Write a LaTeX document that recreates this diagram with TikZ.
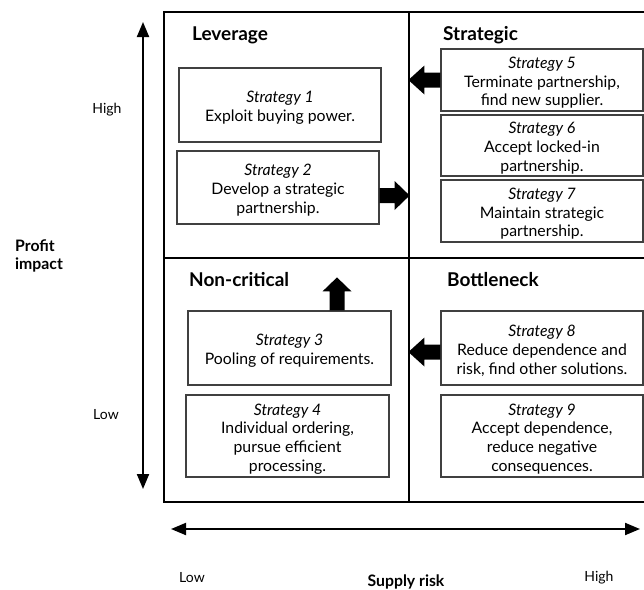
\documentclass[tikz,border=0pt]{standalone}
\usepackage{fontspec}
\setmainfont{Lato}
\usetikzlibrary{arrows.meta,calc}

% italic heading line of a strategy box, with a strut that lowers the block a little
\newcommand{\stratname}[1]{\rule{0pt}{17pt}\textit{Strategy #1}}

\tikzset{
  stratbox/.style={draw=black!75, line width=1.2pt, minimum width=#1, align=center,
    inner sep=0pt, font=\fontsize{15.8}{18.7}\selectfont},
  quadtitle/.style={anchor=base west, inner sep=0pt, font=\fontsize{19}{23}\selectfont\bfseries},
  axislabel/.style={inner sep=0pt, font=\fontsize{14}{17}\selectfont},
  axisname/.style={inner sep=0pt, font=\fontsize{15.8}{18.5}\selectfont\bfseries},
  frame/.style={line width=2pt, black},
  axis/.style={line width=2pt, {Triangle[length=15pt,width=12pt]}-{Triangle[length=15pt,width=12pt]}},
  blockarrow/.style={fill=black, draw=none}
}

\begin{document}
\begin{tikzpicture}[x=1pt, y=-1pt]
\clip (0,0) rectangle (644,589);

% quadrant frame
\coordinate (tl) at (164,12);
\coordinate (br) at (654,502);
\coordinate (midtop) at (409,12);
\coordinate (midbot) at (409,502);
\coordinate (midleft) at (164,257.5);
\coordinate (midright) at (654,257.5);
\draw[frame] (tl) rectangle (br);
\draw[frame] (midtop) -- (midbot);
\draw[frame] (midleft) -- (midright);

% quadrant titles
\node[quadtitle] (tlev) at (192,40.7) {Leverage};
\node[quadtitle] (tstr) at (443,40.7) {Strategic};
\node[quadtitle] (tnon) at (189,286.7) {Non-critical};
\node[quadtitle] (tbot) at (447,286.7) {Bottleneck};

% strategy boxes
\node[stratbox=202pt, minimum height=74pt] (s1) at (280,105)
  {\stratname{1}\\Exploit buying power.};
\node[stratbox=202pt, minimum height=73pt] (s2) at (278,187.5)
  {\stratname{2}\\Develop a strategic\\partnership.};
\node[stratbox=203pt, minimum height=74pt] (s3) at (289.5,348)
  {\stratname{3}\\Pooling of requirements.};
\node[stratbox=203pt, minimum height=82pt] (s4) at (287.5,436)
  {\stratname{4}\\Individual ordering,\\pursue efficient\\processing.};
\node[stratbox=202pt, minimum height=62pt] (s5) at (542,80)
  {\stratname{5}\\Terminate partnership,\\find new supplier.};
\node[stratbox=202pt, minimum height=61pt] (s6) at (542,145.5)
  {\stratname{6}\\Accept locked-in\\partnership.};
\node[stratbox=202pt, minimum height=62pt] (s7) at (542,211)
  {\stratname{7}\\Maintain strategic\\partnership.};
\node[stratbox=202pt, minimum height=74pt] (s8) at (542,348)
  {\stratname{8}\\Reduce dependence and\\risk, find other solutions.};
\node[stratbox=202pt, minimum height=82pt] (s9) at (542,436)
  {\stratname{9}\\Accept dependence,\\reduce negative\\consequences.};

% block arrows between quadrants
\fill[blockarrow] (s5.west) ++(0,-7.5) -- ++(-16,0) -- ++(0,-7) -- ++(-16,14.5)
  -- ++(16,14.5) -- ++(0,-7) -- ++(16,0) -- cycle;
\fill[blockarrow] ($(s2.east)+(0,8)$) ++(0,-7.5) -- ++(15,0) -- ++(0,-7) -- ++(15,14.5)
  -- ++(-15,14.5) -- ++(0,-7) -- ++(-15,0) -- cycle;
\fill[blockarrow] ($(s3.north)+(47.5,0)$) ++(-7.5,0) -- ++(0,-19) -- ++(-7,0) -- ++(14.5,-14)
  -- ++(14.5,14) -- ++(-7,0) -- ++(0,19) -- cycle;
\fill[blockarrow] ($(s8.west)+(0,4)$) ++(0,-7.5) -- ++(-16,0) -- ++(0,-7) -- ++(-16,14.5)
  -- ++(16,14.5) -- ++(0,-7) -- ++(16,0) -- cycle;

% axes
\coordinate (vtop) at (143,22);
\coordinate (vbot) at (143,489);
\coordinate (hleft) at (171,529);
\coordinate (hright) at (640,529);
\draw[axis] (vtop) -- (vbot);
\draw[axis] (hleft) -- (hright);

% axis labels
\node[axislabel] (vhigh) at (107,110) {High};
\node[axislabel] (vlow) at (106,415) {Low};
\node[axisname, anchor=west, align=left] (vname) at (15,256) {Profit\\impact};
\node[axislabel] (hlow) at (192,578) {Low};
\node[axisname] (hname) at (406,582) {Supply risk};
\node[axislabel] (hhigh) at (599,578) {High};
\end{tikzpicture}
\end{document}
